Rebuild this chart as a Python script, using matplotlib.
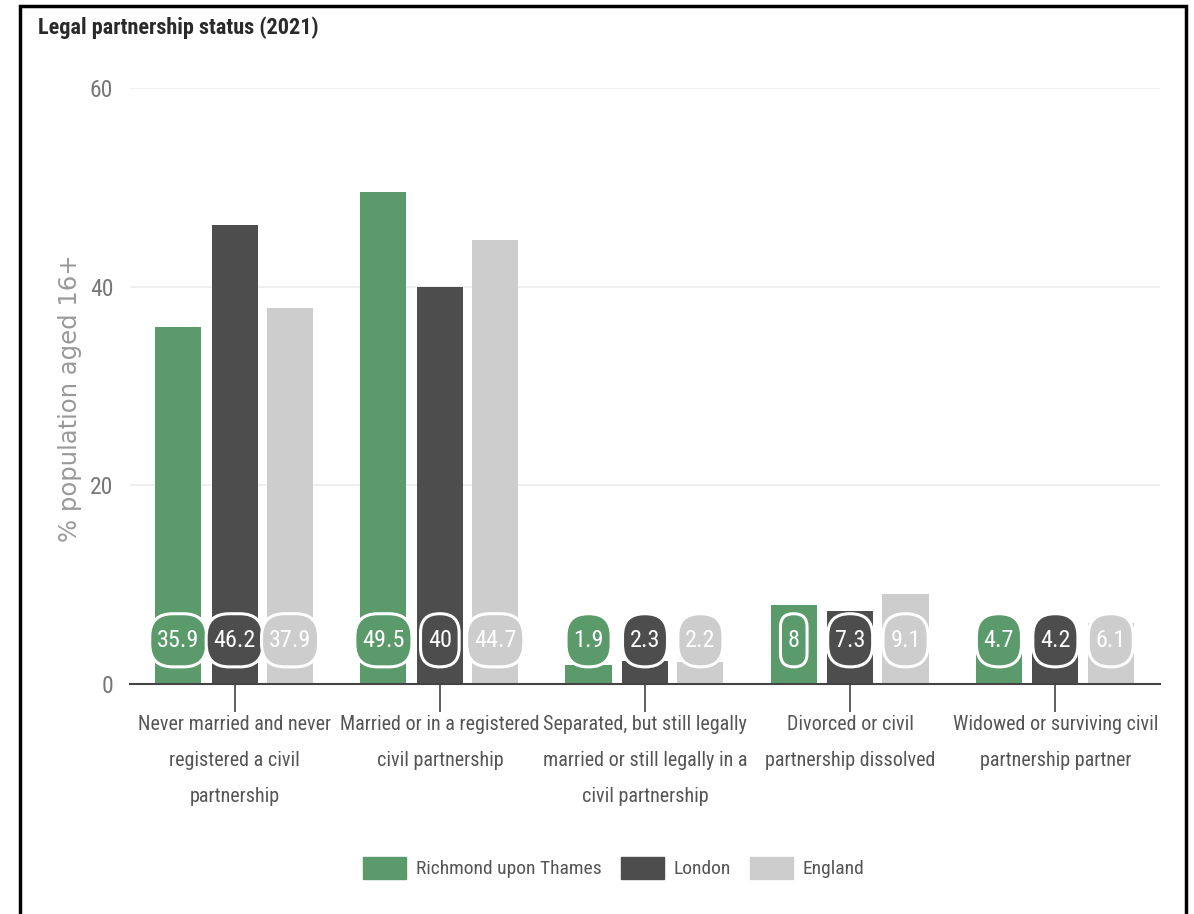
import matplotlib
matplotlib.use("Agg")
import matplotlib.pyplot as plt
from matplotlib import font_manager
from matplotlib.font_manager import FontProperties
from matplotlib.patches import Rectangle, Patch, BoxStyle
import numpy as np

categories = [
    "Never married and never\nregistered a civil\npartnership",
    "Married or in a registered\ncivil partnership",
    "Separated, but still legally\nmarried or still legally in a\ncivil partnership",
    "Divorced or civil\npartnership dissolved",
    "Widowed or surviving civil\npartnership partner",
]
series_names = ["Richmond upon Thames", "London", "England"]
richmond = [35.9, 49.5, 1.9, 8.0, 4.7]
london = [46.2, 40.0, 2.3, 7.3, 4.2]
england = [37.9, 44.7, 2.2, 9.1, 6.1]
yticks = [0, 20, 40, 60]

colors = ["#5b9b6b", "#4d4d4d", "#cdcdcd"]

# ---- pick a condensed font if one is installed ----
def find_font(bold=False):
    prefs = ["robotocondensed", "liberationsansnarrow", "opensanscondensed", "dejavusanscondensed",
             "notosanscondensed", "condensed", "narrow"]
    files = []
    for f in font_manager.fontManager.ttflist:
        fn = f.fname.lower().replace("-", "").replace("_", "").replace(" ", "")
        nm = f.name.lower().replace(" ", "")
        key = fn + "|" + nm
        if not any(k in key for k in ("condensed", "narrow")) and str(f.stretch) not in ("condensed", "semi-condensed", "extra-condensed"):
            continue
        if "italic" in fn or "oblique" in fn or f.style != "normal":
            continue
        isbold = ("bold" in fn) or (isinstance(f.weight, int) and f.weight >= 600) or f.weight == "bold"
        if "light" in fn or "thin" in fn or "black" in fn or "semibold" in fn or "medium" in fn or "extra" in fn:
            continue
        if isbold != bold:
            continue
        rank = len(prefs)
        for i, p in enumerate(prefs):
            if p in key:
                rank = i
                break
        files.append((rank, f.fname))
    files.sort()
    return files[0][1] if files else None

reg_file = find_font(False)
bold_file = find_font(True)

def fp(size, bold=False):
    f = bold_file if bold else reg_file
    if f is not None:
        return FontProperties(fname=f, size=size)
    return FontProperties(family="Lato", size=size * 0.8, weight="bold" if bold else "normal")

def badge(x0, y0, width, height, mutation_size):
    px = 0.30 * mutation_size
    py = 0.62 * mutation_size
    w = width + 2 * px
    h = height + 2 * py
    r = min(0.95 * mutation_size, 0.49 * w, 0.49 * h)
    style = BoxStyle.Round(pad=0, rounding_size=r / mutation_size)
    return style(x0 - px, y0 - py, w, h, mutation_size)

fig = plt.figure(figsize=(11.94, 9.14), dpi=100)
ax = fig.add_axes([130/1194, 1-684/914, (1160-130)/1194, (684-88)/914])

x = np.arange(len(categories))
offsets = [-0.275, 0.0, 0.27]
width = 0.225
data = [richmond, london, england]

for vals, off, col in zip(data, offsets, colors):
    ax.bar(x + off, vals, width=width, color=col, zorder=2)
    for xi, v in zip(x, vals):
        ax.text(xi + off, 4.4, f"{v:g}", ha="center", va="center", color="white",
                fontproperties=fp(17.5), zorder=5,
                bbox=dict(boxstyle=badge, fc=col, ec="white", lw=2.2))

ax.set_xlim(-0.51, 4.51)
ax.set_ylim(0, 60)
ax.set_yticks(yticks)
ax.set_yticklabels([str(t) for t in yticks], color="#777777")
for lab in ax.get_yticklabels():
    lab.set_fontproperties(fp(17))
ax.tick_params(axis="y", length=0, pad=12)
ax.set_xticks(x)
ax.set_xticklabels(categories, color="#555555", linespacing=2.15)
for lab in ax.get_xticklabels():
    lab.set_fontproperties(fp(14.5))
ax.tick_params(axis="x", length=20, width=1.2, color="#444444", direction="out", pad=2)
ax.grid(axis="y", color="#ececec", lw=1.2, zorder=0)
for s in ["top", "right", "left"]:
    ax.spines[s].set_visible(False)
ax.spines["bottom"].set_color("#444444")
ax.spines["bottom"].set_linewidth(1.5)
ax.spines["bottom"].set_zorder(6)

ax.set_ylabel("% population aged 16+", fontsize=17.5, color="#999999", family=["DejaVu Sans"])
ax.yaxis.set_label_coords(-0.047, 0.48)

fig.text(38/1194, 1-28/914, "Legal partnership status (2021)", fontproperties=fp(16, bold=True),
         color="#2a2a2a", ha="left", va="center")

handles = [Patch(facecolor=c, edgecolor=c) for c in colors]
leg = fig.legend(handles, series_names, loc="center", bbox_to_anchor=(614/1194, 1-868/914), ncol=3,
                 frameon=False, prop=fp(14), handlelength=2.2, handleheight=1.4,
                 columnspacing=1.0, handletextpad=0.5)
for t in leg.get_texts():
    t.set_color("#555555")

fig.patches.append(Rectangle((20/1194, -0.02), (1186-20)/1194, 1-6/914+0.02, transform=fig.transFigure,
                             fill=False, ec="black", lw=2.5))

fig.savefig("out.png", dpi=100)
